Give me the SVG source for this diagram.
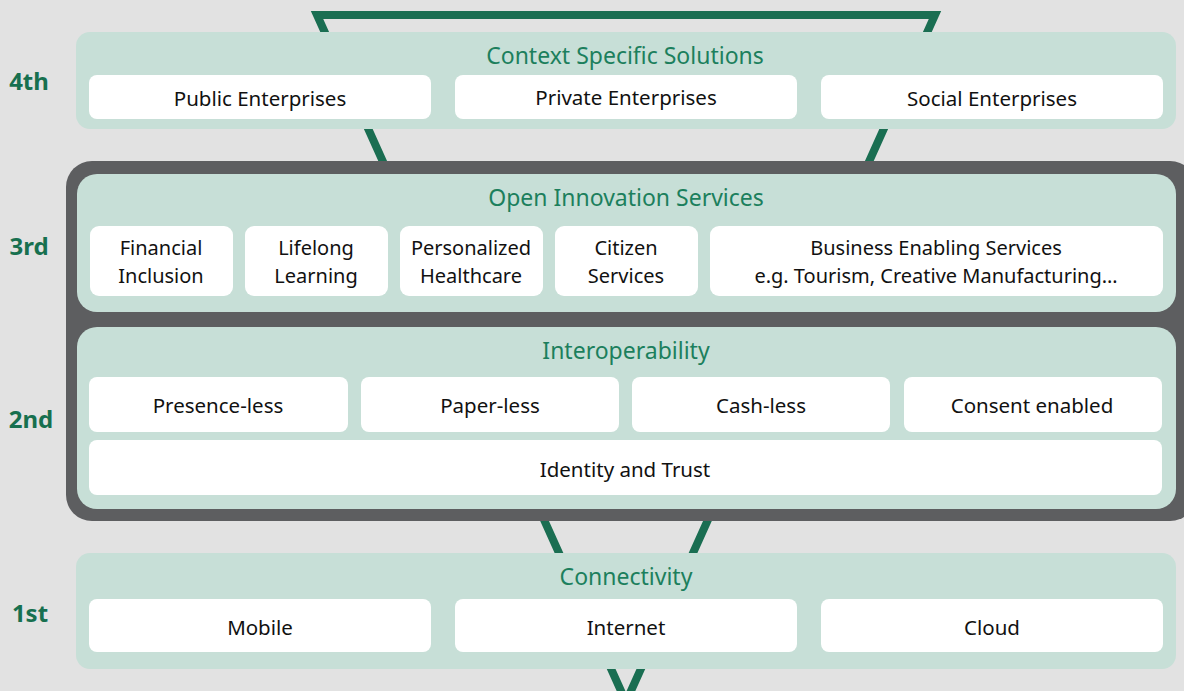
<svg xmlns="http://www.w3.org/2000/svg" width="1184" height="691" viewBox="0 0 1184 691">
  <style>
    .layer { fill: #C7DFD7; }
    .cell { fill: #FFFFFF; }
    .title { font-family: "Noto Sans", "Open Sans", sans-serif; font-size: 23px; fill: #1C7F5D; text-anchor: middle; dominant-baseline: central; }
    .txt { font-family: "Noto Sans", "Open Sans", sans-serif; font-size: 20.5px; fill: #111111; text-anchor: middle; dominant-baseline: central; }
    .two { font-size: 20px; }
    .lvl { font-family: "Noto Sans", "Open Sans", sans-serif; font-size: 24px; font-weight: bold; fill: #17704F; text-anchor: middle; dominant-baseline: central; }
    .funnel { fill: none; stroke: #1A6E52; stroke-width: 8; stroke-linejoin: miter; }
  </style>
  <rect width="1184" height="691" fill="#E2E2E2"/>

  <g id="connectors">
    <!-- funnel outline running behind all layers -->
    <polygon class="funnel" points="317,15 935,15 626,702"/>
  </g>

  <!-- level markers -->
  <g id="levels">
    <text class="lvl" x="29" y="80">4th</text>
    <text class="lvl" x="29" y="245">3rd</text>
    <text class="lvl" x="31" y="418">2nd</text>
    <text class="lvl" x="30" y="612">1st</text>
  </g>

  <g id="layer4">
    <rect class="layer" x="76" y="32" width="1100" height="97" rx="14"/>
    <text class="title" x="625" y="55">Context Specific Solutions</text>
    <g id="public-enterprises">
      <rect class="cell" x="89" y="75" width="342" height="44" rx="8"/>
      <text class="txt" x="260" y="98">Public Enterprises</text>
    </g>
    <g id="private-enterprises">
      <rect class="cell" x="455" y="75" width="342" height="44" rx="8"/>
      <text class="txt" x="626" y="97">Private Enterprises</text>
    </g>
    <g id="social-enterprises">
      <rect class="cell" x="821" y="75" width="342" height="44" rx="8"/>
      <text class="txt" x="992" y="98">Social Enterprises</text>
    </g>
  </g>

  <!-- dark frame holding layers 3 and 2 -->
  <g id="core-frame">
    <rect x="66" y="161" width="1130" height="360" rx="26" fill="#5D5E60"/>
  </g>

  <g id="layer3">
    <rect class="layer" x="77" y="174" width="1099" height="138" rx="20"/>
    <text class="title" x="626" y="197">Open Innovation Services</text>
    <g id="financial-inclusion">
      <rect class="cell" x="90" y="226" width="143" height="70" rx="9"/>
      <text class="txt two" x="161" y="247">Financial</text>
      <text class="txt two" x="161" y="275">Inclusion</text>
    </g>
    <g id="lifelong-learning">
      <rect class="cell" x="245" y="226" width="143" height="70" rx="9"/>
      <text class="txt two" x="316" y="247">Lifelong</text>
      <text class="txt two" x="316" y="275">Learning</text>
    </g>
    <g id="personalized-healthcare">
      <rect class="cell" x="400" y="226" width="143" height="70" rx="9"/>
      <text class="txt two" x="471" y="247">Personalized</text>
      <text class="txt two" x="471" y="275">Healthcare</text>
    </g>
    <g id="citizen-services">
      <rect class="cell" x="555" y="226" width="143" height="70" rx="9"/>
      <text class="txt two" x="626" y="247">Citizen</text>
      <text class="txt two" x="626" y="275">Services</text>
    </g>
    <g id="business-enabling">
      <rect class="cell" x="710" y="226" width="453" height="70" rx="9"/>
      <text class="txt two" x="936" y="247">Business Enabling Services</text>
      <text class="txt two" x="936" y="275">e.g. Tourism, Creative Manufacturing…</text>
    </g>
  </g>

  <g id="layer2">
    <rect class="layer" x="77" y="327" width="1099" height="182" rx="20"/>
    <text class="title" x="626" y="350">Interoperability</text>
    <g id="presence-less">
      <rect class="cell" x="89" y="377" width="259" height="55" rx="8"/>
      <text class="txt" x="218" y="405">Presence-less</text>
    </g>
    <g id="paper-less">
      <rect class="cell" x="361" y="377" width="258" height="55" rx="8"/>
      <text class="txt" x="490" y="405">Paper-less</text>
    </g>
    <g id="cash-less">
      <rect class="cell" x="632" y="377" width="258" height="55" rx="8"/>
      <text class="txt" x="761" y="405">Cash-less</text>
    </g>
    <g id="consent-enabled">
      <rect class="cell" x="904" y="377" width="258" height="55" rx="8"/>
      <text class="txt" x="1032" y="405">Consent enabled</text>
    </g>
    <g id="identity-trust">
      <rect class="cell" x="89" y="440" width="1073" height="55" rx="8"/>
      <text class="txt" x="625" y="469">Identity and Trust</text>
    </g>
  </g>

  <g id="layer1">
    <rect class="layer" x="76" y="553" width="1100" height="116" rx="14"/>
    <text class="title" x="626" y="576">Connectivity</text>
    <g id="mobile">
      <rect class="cell" x="89" y="599" width="342" height="53" rx="8"/>
      <text class="txt" x="260" y="627">Mobile</text>
    </g>
    <g id="internet">
      <rect class="cell" x="455" y="599" width="342" height="53" rx="8"/>
      <text class="txt" x="626" y="627">Internet</text>
    </g>
    <g id="cloud">
      <rect class="cell" x="821" y="599" width="342" height="53" rx="8"/>
      <text class="txt" x="992" y="627">Cloud</text>
    </g>
  </g>
</svg>
